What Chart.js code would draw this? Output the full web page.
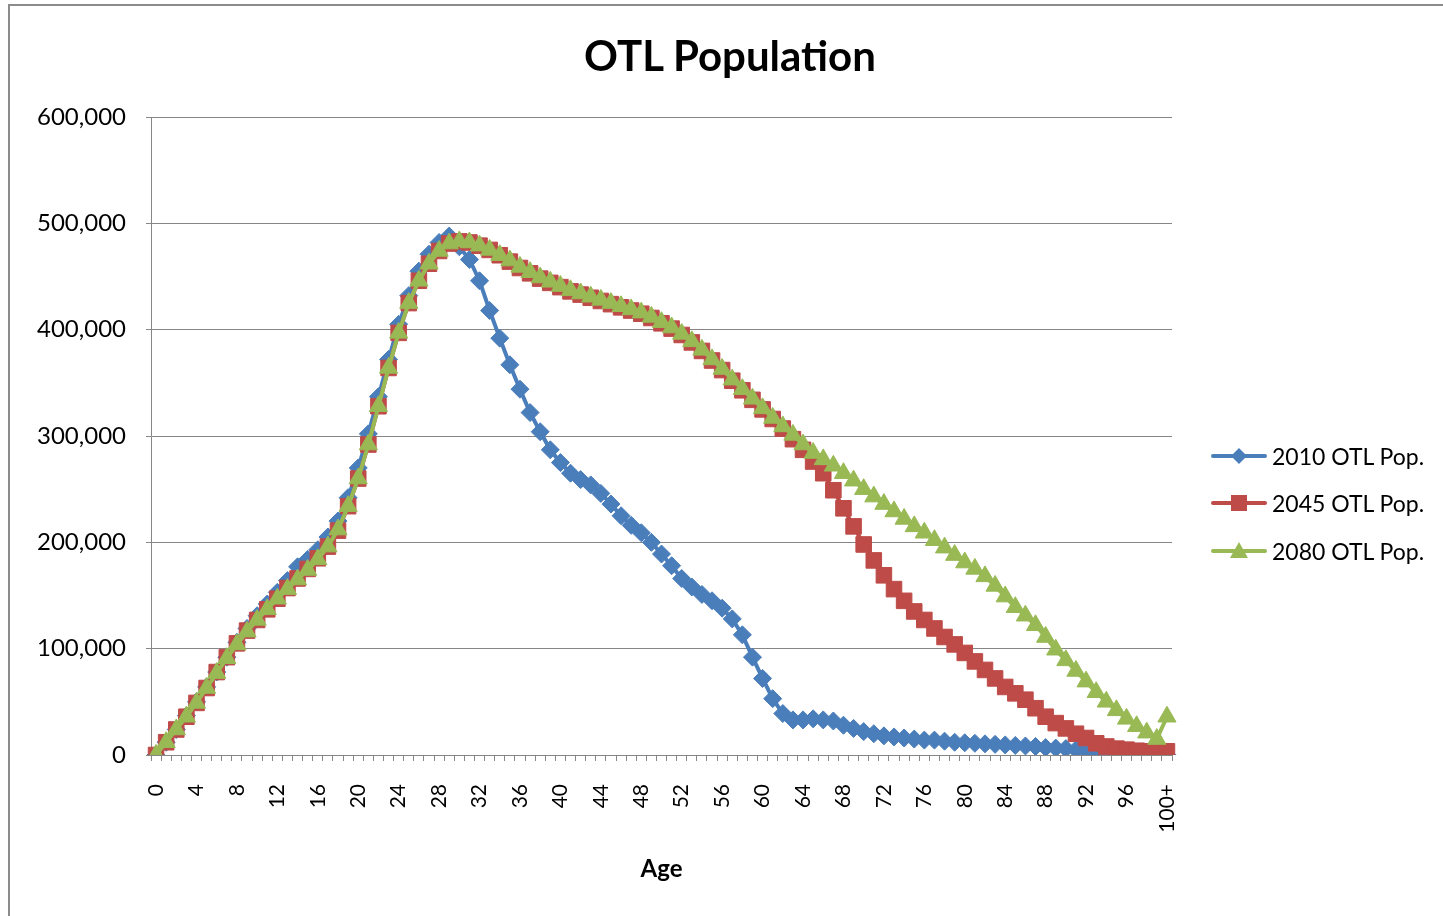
<!DOCTYPE html>
<html>
<head>
<meta charset="utf-8">
<script src="https://cdn.jsdelivr.net/npm/chart.js@4.4.0/dist/chart.umd.min.js"></script>
<style>
  html, body { margin: 0; padding: 0; background: #fff; }
  #wrap { position: relative; width: 1443px; height: 916px; overflow: hidden; font-family: Lato, "Open Sans", sans-serif; }
  #frame { position: absolute; left: 8px; top: 4px; width: 1500px; height: 1000px; border-left: 2px solid #8c8c8c; border-top: 2px solid #8c8c8c; }
  #title { position: absolute; left: 0; width: 1460px; top: 30px; text-align: center; font-weight: bold; font-size: 42px; color: #000; }
  canvas { position: absolute; left: 0; top: 0; }
  .leg { position: absolute; left: 1211px; height: 30px; font-size: 23px; color: #000; display: flex; align-items: center; }
  .leg svg { margin-right: 5px; }
</style>
</head>
<body>
<div id="wrap">
  <div id="frame"></div>
  <canvas id="chart" width="1443" height="916"></canvas>
  <div id="title">OTL Population</div>
  <div id="legend"></div>
</div>
<script>
// age categories, 0..99 then 100+
const ages = [];
for (let i = 0; i < 100; i++) ages.push(String(i));
ages.push('100+');

const seriesNames = ['2010 OTL Pop.', '2045 OTL Pop.', '2080 OTL Pop.'];

const pop2010 = [
  0, 12000, 24000, 37000, 50000, 64000, 78000, 92000, 106000, 119000,
  131000, 142000, 153000, 164000, 177000, 184000, 193000, 205000, 220000, 242000,
  270000, 302000, 337000, 372000, 405000, 432000, 455000, 471000, 482000, 488000,
  478000, 466000, 446000, 418000, 392000, 367000, 344000, 322000, 304000, 287000,
  275000, 265000, 259000, 254000, 246000, 236000, 225000, 216000, 209000, 200000,
  189000, 178000, 166000, 158000, 151000, 145000, 138000, 128000, 113000, 92000,
  72000, 53000, 39000, 33000, 33000, 34000, 33000, 32000, 28000, 25000,
  22000, 20000, 18000, 17000, 16000, 15000, 14000, 14000, 13000, 12000,
  11500, 11000, 10500, 10000, 9500, 9000, 8500, 8000, 7000, 6500,
  6000, 5000, 4000, 3000, 2000, 1500, 1000, 500, 300, 200,
  100
];

const pop2045 = [
  0, 12000, 24000, 36000, 49000, 63000, 78000, 92000, 105000, 117000,
  127000, 137000, 147000, 157000, 166000, 175000, 185000, 196000, 211000, 234000,
  260000, 292000, 328000, 364000, 397000, 425000, 446000, 462000, 474000, 481000,
  483000, 482000, 479000, 475000, 470000, 464000, 458000, 453000, 448000, 444000,
  440000, 436000, 433000, 430000, 427000, 424000, 421000, 418000, 415000, 411000,
  406000, 401000, 395000, 388000, 380000, 371000, 362000, 352000, 343000, 334000,
  325000, 316000, 307000, 297000, 287000, 276000, 265000, 249000, 232000, 215000,
  198000, 183000, 169000, 156000, 145000, 135000, 127000, 119000, 111000, 104000,
  96000, 88000, 80000, 72000, 64000, 58000, 52000, 44000, 36000, 30000,
  25000, 20000, 16000, 11000, 8000, 6000, 5000, 4000, 3500, 3500,
  3500
];

const pop2080 = [
  0, 12000, 24000, 36000, 49000, 63000, 77000, 91000, 104000, 116000,
  127000, 137000, 147000, 156000, 165000, 174000, 184000, 196000, 212000, 234000,
  260000, 292000, 328000, 364000, 397000, 425000, 446000, 462000, 474000, 481000,
  483000, 482000, 479000, 475000, 470000, 465000, 459000, 454000, 449000, 445000,
  441000, 437000, 434000, 431000, 428000, 425000, 422000, 419000, 416000, 412000,
  407000, 402000, 396000, 389000, 381000, 372000, 363000, 353000, 344000, 335000,
  326000, 317000, 309000, 301000, 292000, 284000, 278000, 272000, 265000, 258000,
  250000, 243000, 236000, 229000, 222000, 215000, 209000, 202000, 195000, 188000,
  181000, 175000, 168000, 159000, 149000, 139000, 131000, 122000, 111000, 99000,
  89000, 79000, 69000, 59000, 50000, 42000, 34000, 27000, 21000, 15000,
  36000
];

const yTicks = [0, 100000, 200000, 300000, 400000, 500000, 600000];

const colors = ['#4A7EBB', '#BE4B48', '#98B954'];
const markers = ['rectRot', 'rect', 'triangle'];
const radii = [9, 11, 10.5];

async function drawChart() {
  try {
    await document.fonts.load('23px Lato');
    await document.fonts.load('bold 24px Lato');
  } catch (e) {}

  const ctx = document.getElementById('chart').getContext('2d');
  const allData = [pop2010, pop2045, pop2080];

  const datasets = allData.map((d, i) => ({
    label: seriesNames[i],
    data: d,
    borderColor: colors[i],
    backgroundColor: colors[i],
    borderWidth: 4,
    pointStyle: markers[i],
    pointRadius: radii[i],
    pointBorderWidth: 1,
    pointBorderColor: colors[i],
    pointBackgroundColor: colors[i],
    tension: 0,
    order: 3 - i
  }));

  new Chart(ctx, {
    type: 'line',
    data: { labels: ages, datasets: datasets },
    options: {
      responsive: false,
      animation: false,
      layout: { padding: { left: 0, right: 271, top: 117, bottom: 0 } },
      plugins: {
        legend: { display: false },
        title: { display: false },
        tooltip: { enabled: false }
      },
      scales: {
        x: {
          type: 'category',
          offset: true,
          grid: { offset: true, drawOnChartArea: false, drawTicks: true, tickLength: 6, color: '#868686' },
          border: { color: '#868686', width: 1 },
          ticks: {
            autoSkip: false,
            minRotation: 90,
            maxRotation: 90,
            padding: 23,
            color: '#000',
            font: { family: 'Lato', size: 21 },
            callback: function (val, i) { return i % 4 === 0 ? this.getLabelForValue(val) : ''; }
          },
          title: {
            display: true,
            text: 'Age',
            color: '#000',
            font: { family: 'Lato', size: 24, weight: 'bold' },
            padding: { top: 0, bottom: 32 }
          },
          afterFit: s => { s.height = 161; }
        },
        y: {
          min: 0,
          max: 600000,
          afterBuildTicks: s => { s.ticks = yTicks.map(v => ({ value: v })); },
          grid: { color: '#868686', tickLength: 5 },
          border: { color: '#868686', width: 1 },
          ticks: {
            padding: 20,
            color: '#000',
            font: { family: 'Lato', size: 24 },
            callback: v => v.toLocaleString('en-US')
          },
          afterFit: s => { s.width = 151; }
        }
      }
    }
  });

  // legend: line with marker and text
  const legend = document.getElementById('legend');
  const tops = [441, 488, 536];
  seriesNames.forEach((name, i) => {
    const item = document.createElement('div');
    item.className = 'leg';
    item.style.top = tops[i] + 'px';
    let mark = '';
    if (i === 0) mark = '<polygon points="28,7 36,15 28,23 20,15" fill="' + colors[0] + '"/>';
    if (i === 1) mark = '<rect x="20" y="7" width="16" height="16" fill="' + colors[1] + '"/>';
    if (i === 2) mark = '<polygon points="28,6 37,22 19,22" fill="' + colors[2] + '"/>';
    item.innerHTML = '<svg width="56" height="30"><line x1="2" y1="15" x2="54" y2="15" stroke="' + colors[i] +
      '" stroke-width="4" stroke-linecap="round"/>' + mark + '</svg><span>' + name + '</span>';
    legend.appendChild(item);
  });
}

drawChart();
</script>
</body>
</html>
